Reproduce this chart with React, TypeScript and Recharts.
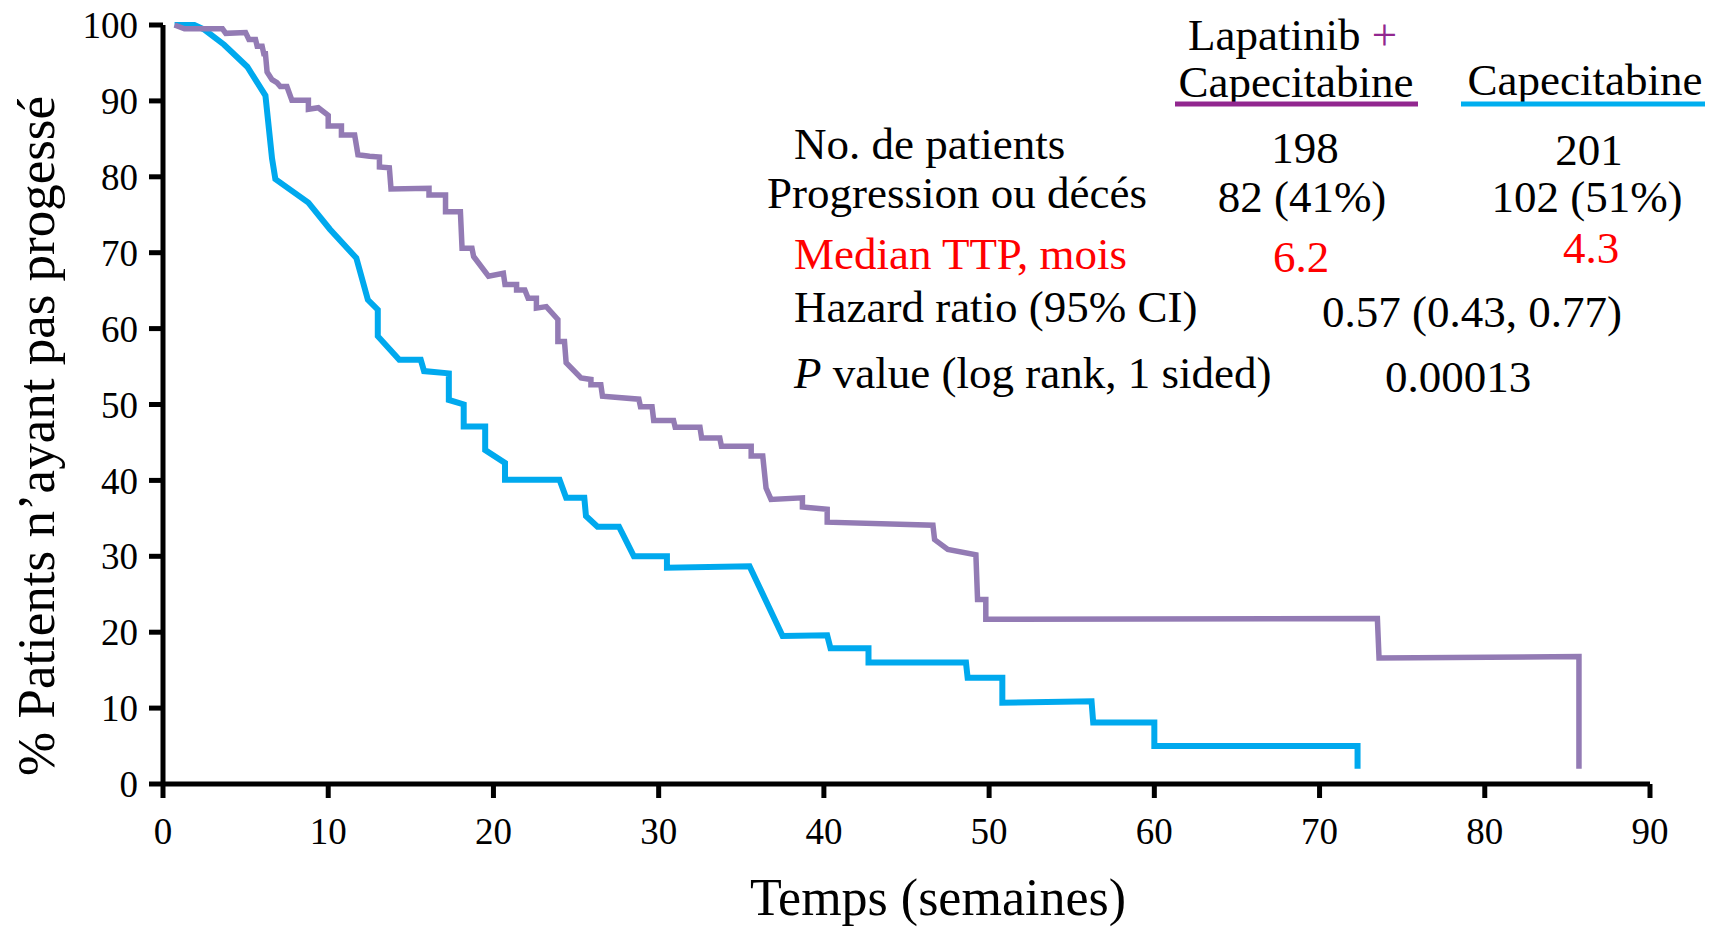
import { LineChart, Line, XAxis, YAxis } from 'recharts';

// Lapatinib + Capecitabine (semaines, % sans progression)
const lapCapWeeks = [
  0.7, 1.3, 3.6, 3.8, 5.0, 5.2, 5.6, 5.7, 6.0, 6.1, 6.2, 6.3, 6.6, 6.9, 7.1, 7.5, 7.8, 8.8, 8.8, 9.4,
  10.0, 10.0, 10.8, 10.8, 11.6, 11.8, 12.5, 13.1, 13.1, 13.7, 13.8, 16.1, 16.1, 17.1, 17.1, 18.0, 18.1,
  18.7, 18.8, 19.7, 20.6, 20.7, 21.4, 21.4, 21.9, 22.1, 22.6, 22.6, 23.2, 23.9, 23.9, 24.3, 24.4, 25.3,
  25.9, 25.9, 26.5, 26.6, 28.8, 28.9, 29.6, 29.7, 30.9, 31.0, 32.5, 32.6, 33.7, 33.8, 35.6, 35.6, 36.3,
  36.5, 36.8, 38.7, 38.7, 40.2, 40.2, 46.6, 46.7, 47.5, 49.2, 49.3, 49.8, 49.8, 73.5, 73.6, 85.7, 85.7,
];
const lapCapPct = [
  100, 99.5, 99.5, 98.9, 99.0, 98.1, 98.1, 97.2, 97.2, 96.2, 96.2, 93.8, 92.8, 92.4, 91.9, 91.9, 90.1,
  90.1, 88.9, 89.1, 88.1, 86.7, 86.7, 85.5, 85.5, 82.9, 82.7, 82.6, 81.3, 81.2, 78.4, 78.5, 77.6, 77.6,
  75.4, 75.4, 70.6, 70.6, 69.5, 66.9, 67.3, 65.8, 65.8, 65.1, 65.1, 64.0, 64.0, 62.7, 62.9, 61.2, 58.3,
  58.3, 55.5, 53.5, 53.3, 52.6, 52.6, 51.1, 50.7, 49.7, 49.7, 47.9, 47.9, 47.0, 47.0, 45.6, 45.6, 44.5,
  44.5, 43.2, 43.2, 39.0, 37.5, 37.7, 36.5, 36.2, 34.5, 34.1, 32.2, 30.9, 30.2, 24.3, 24.3, 21.7, 21.8,
  16.6, 16.8, 2.0,
];

// Capecitabine seule
const capWeeks = [
  0.7, 1.9, 2.5, 3.7, 5.1, 6.2, 6.6, 6.8, 8.8, 10.1, 11.7, 12.4, 13.0, 13.0, 14.3, 15.6, 15.8, 17.3,
  17.3, 18.2, 18.2, 19.5, 19.5, 20.7, 20.7, 24.0, 24.4, 25.5, 25.6, 26.3, 27.6, 28.5, 30.5, 30.5, 35.5,
  37.5, 40.2, 40.4, 42.7, 42.7, 48.6, 48.7, 50.8, 50.8, 56.2, 56.3, 60.0, 60.0, 72.3, 72.3,
];
const capPct = [
  100, 100, 99.4, 97.4, 94.5, 90.7, 82.4, 79.7, 76.6, 73.1, 69.3, 63.8, 62.5, 59.0, 55.9, 55.9, 54.4,
  54.1, 50.6, 50.0, 47.1, 47.1, 44.0, 42.3, 40.1, 40.1, 37.7, 37.7, 35.3, 33.9, 33.9, 30.0, 30.0, 28.5,
  28.7, 19.5, 19.6, 17.9, 17.9, 16.0, 16.0, 14.0, 14.0, 10.7, 10.9, 8.1, 8.1, 5.0, 5.0, 2.0,
];

const xTicks = [0, 10, 20, 30, 40, 50, 60, 70, 80, 90];
const yTicks = [0, 10, 20, 30, 40, 50, 60, 70, 80, 90, 100];

const lapCapData = lapCapWeeks.map((x, i) => ({ x, y: lapCapPct[i] }));
const capData = capWeeks.map((x, i) => ({ x, y: capPct[i] }));

const FONT = '"Liberation Serif", "DejaVu Serif", serif';
const PURPLE_LINE = '#937BB4';
const BLUE_LINE = '#00A9EE';
const RED = '#FF0000';

const tickStyle = { fontFamily: FONT, fontSize: 37, fill: '#000' };
const axisStroke = { stroke: '#000', strokeWidth: 5 };

export default function App() {
  return (
    <div style={{ position: 'absolute', left: 0, top: 0, width: 1718, height: 929, background: '#fff' }}>
      <LineChart width={1718} height={929} margin={{ top: 25, right: 68, bottom: 85, left: 63 }}>
        <XAxis
          dataKey="x"
          type="number"
          domain={[0, 90]}
          ticks={xTicks}
          allowDataOverflow
          height={60}
          tick={tickStyle}
          tickSize={14}
          tickMargin={20}
          axisLine={axisStroke}
          tickLine={axisStroke}
        />
        <YAxis
          type="number"
          domain={[0, 100]}
          ticks={yTicks}
          width={100}
          tick={tickStyle}
          tickSize={14}
          tickMargin={11}
          axisLine={axisStroke}
          tickLine={axisStroke}
        />
        <Line
          data={capData}
          dataKey="y"
          type="linear"
          stroke={BLUE_LINE}
          strokeWidth={6}
          dot={false}
          isAnimationActive={false}
        />
        <Line
          data={lapCapData}
          dataKey="y"
          type="linear"
          stroke={PURPLE_LINE}
          strokeWidth={5.5}
          dot={false}
          isAnimationActive={false}
        />
      </LineChart>

      {/* titres d'axes + tableau de légende */}
      <svg
        width={1718}
        height={929}
        style={{ position: 'absolute', left: 0, top: 0, pointerEvents: 'none' }}
        fontFamily={FONT}
      >
        <text x={938} y={915} fontSize={52} textAnchor="middle" fill="#000">
          Temps (semaines)
        </text>
        <text
          x={54}
          y={436}
          fontSize={53}
          textAnchor="middle"
          fill="#000"
          transform="rotate(-90, 54, 436)"
        >
          % Patients n’ayant pas progessé
        </text>

        <g fontSize={45} fill="#000">
          <text x={1188} y={50}>
            Lapatinib <tspan fill="#92278F">+</tspan>
          </text>
          <text x={1296} y={97} textAnchor="middle">Capecitabine</text>
          <line x1={1175} x2={1418} y1={104} y2={104} stroke="#92278F" strokeWidth={5} />
          <text x={1585} y={95} textAnchor="middle">Capecitabine</text>
          <line x1={1461} x2={1705} y1={104} y2={104} stroke="#00AEEF" strokeWidth={5} />

          <text x={794} y={159}>No. de patients</text>
          <text x={1305} y={163} textAnchor="middle">198</text>
          <text x={1589} y={165} textAnchor="middle">201</text>

          <text x={767} y={208}>Progression ou décés</text>
          <text x={1302} y={212} textAnchor="middle">82 (41%)</text>
          <text x={1587} y={212} textAnchor="middle">102 (51%)</text>

          <text x={794} y={269} fill={RED}>Median TTP, mois</text>
          <text x={1301} y={272} textAnchor="middle" fill={RED}>6.2</text>
          <text x={1591} y={263} textAnchor="middle" fill={RED}>4.3</text>

          <text x={794} y={322}>Hazard ratio (95% CI)</text>
          <text x={1472} y={327} textAnchor="middle">0.57 (0.43, 0.77)</text>

          <text x={794} y={388}>
            <tspan fontStyle="italic">P</tspan> value (log rank, 1 sided)
          </text>
          <text x={1458} y={392} textAnchor="middle">0.00013</text>
        </g>
      </svg>
    </div>
  );
}
